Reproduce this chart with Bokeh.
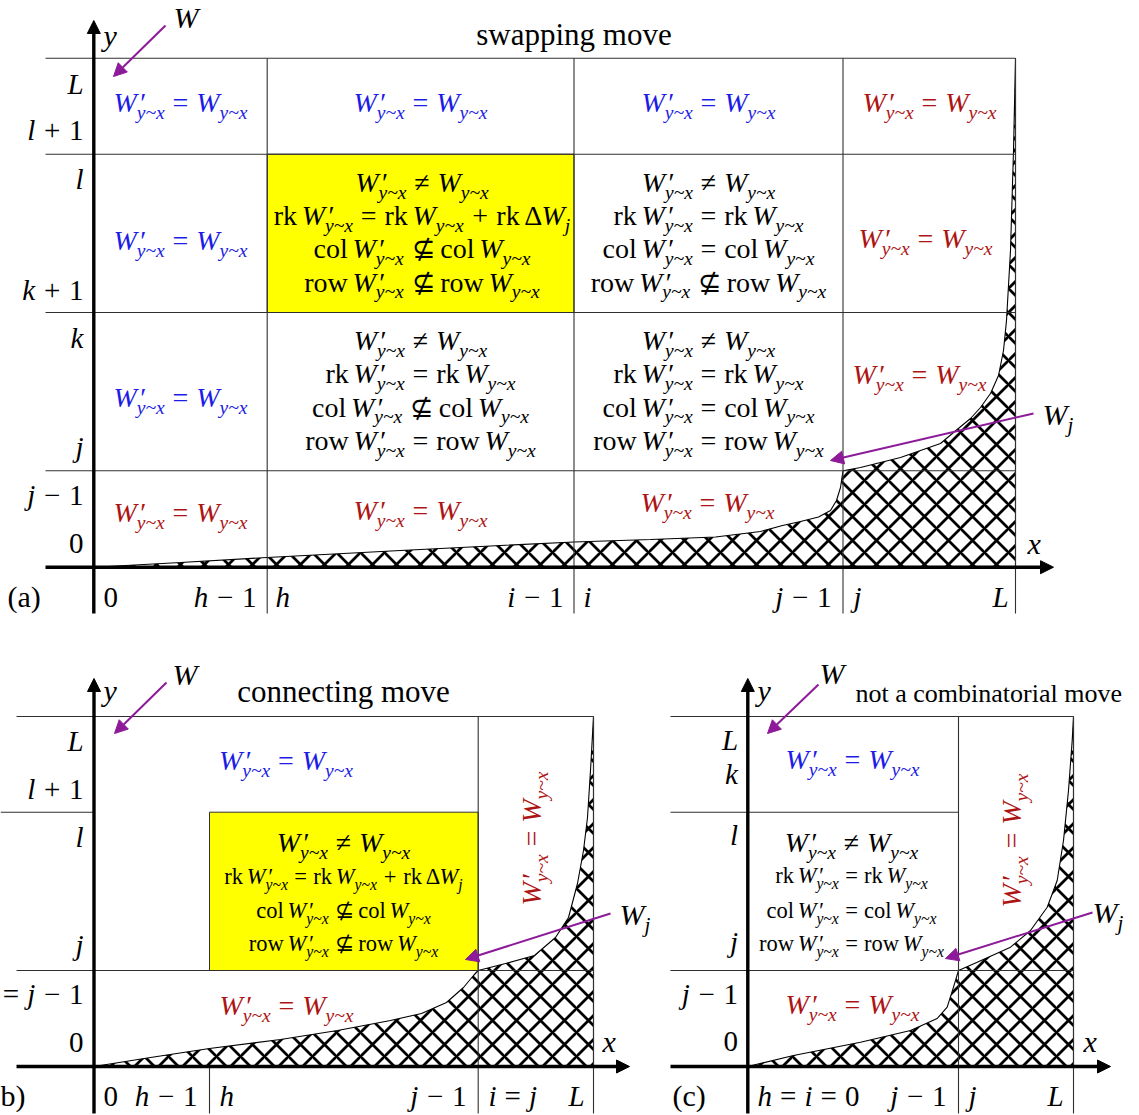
import math
from bokeh.plotting import figure
from bokeh.models import Range1d, Arrow, NormalHead, ColumnDataSource
from bokeh.core.properties import value, field
from bokeh.embed import file_html
from bokeh.resources import INLINE

# ------------------------------------------------------------------ data
BLUE, RED, PURPLE, YELLOW, GRID, INK = "#1c1ce6", "#ad1414", "#8c1a99", "#ffff00", "#303030", "#000000"
FONT = "Liberation Serif"

# ----- panel (a): swapping move
a_origin = [93.3, 566.7]
a_col_edges = [266.7, 573.5, 842.5, 1015.0]
a_row_edges = [57.7, 153.7, 312.0, 470.3]
a_left, a_bottom, a_xtip, a_ytip = 45.0, 613.0, 1053.0, 20.0
a_curve_x = [93.3, 180, 266.7, 400, 500, 573.5, 650, 715, 760, 782, 800, 818, 830, 836, 840, 842.5,
             860, 900, 940, 953, 970, 980, 990, 998, 1003, 1006, 1010, 1013, 1015]
a_curve_y = [566.7, 562, 557, 550, 545, 541.5, 539, 536.5, 531, 525, 521, 516.5, 510, 500, 487, 470.3,
             467, 457, 443, 432, 418, 407, 393, 375, 350, 320, 250, 150, 57.7]
a_ytick_text = ["L", "l + 1", "l", "k + 1", "k", "j", "j − 1", "0"]
a_ytick_base = [91.7, 138, 187, 298, 346, 455, 503, 551]
a_xtick_text = ["0", "h − 1", "h", "i − 1", "i", "j − 1", "j", "L"]
a_xtick_x = [103, 256, 275, 563, 583, 831, 853, 1008]
a_xtick_align = ["left", "right", "left", "right", "left", "right", "left", "right"]
a_eq_x = [180, 420, 708, 929, 180, 925, 180, 919, 180, 420, 707]
a_eq_y = [110, 110, 110, 110, 248, 246, 405, 382, 520, 518, 510]
a_eq_color = [BLUE, BLUE, BLUE, RED, BLUE, RED, BLUE, RED, RED, RED, RED]
a_block_text = [
    ["W′ ≠ W", "rk W′ = rk W + rk ΔW_j", "col W′ ⊈ col W", "row W′ ⊈ row W"],
    ["W′ ≠ W", "rk W′ = rk W", "col W′ = col W", "row W′ ⊈ row W"],
    ["W′ ≠ W", "rk W′ = rk W", "col W′ ⊈ col W", "row W′ = row W"],
    ["W′ ≠ W", "rk W′ = rk W", "col W′ = col W", "row W′ = row W"],
]
a_block_x = [421.5, 708, 420, 708]
a_block_y = [190, 190, 348.3, 348.3]
a_yellow = [266.7, 573.5, 153.7, 312.0]   # left, right, top, bottom

# ----- panel (b): connecting move
b_origin = [93.5, 1066.0]
b_left, b_bottom, b_xtip, b_ytip = 16.0, 1113.0, 629.0, 678.0
b_hlines = [[16, 593, 716], [0, 93.5, 811.7], [16, 593, 970]]
b_vlines = [[209, 1066, 1113], [477.7, 716, 1113], [593, 716, 1113]]
b_curve_x = [93.5, 150, 209, 280, 337, 390, 421, 446, 463, 473, 477.7, 505, 534, 555, 568, 577, 583, 587, 590, 593]
b_curve_y = [1066, 1057, 1048, 1039, 1030, 1020, 1013, 1002, 987, 975, 970, 963, 955, 937, 917, 883, 850, 817, 770, 716]
b_ytick_text = ["L", "l + 1", "l", "j", "= j − 1", "0"]
b_ytick_base = [749, 797, 845, 953, 1002, 1050]
b_xtick_text = ["0", "h − 1", "h", "j − 1", "i = j", "L"]
b_xtick_x = [103, 197, 219, 466, 488, 584]
b_xtick_align = ["left", "right", "left", "right", "left", "right"]
b_yellow = [209.0, 477.7, 811.7, 970.0]
b_block_text = ["W′ ≠ W", "rk W′ = rk W + rk ΔW_j", "col W′ ⊈ col W", "row W′ ⊈ row W"]
b_block_y = [850, 883, 916.7, 950]

# ----- panel (c): not a combinatorial move
c_origin = [747.3, 1066.0]
c_left, c_bottom, c_xtip, c_ytip = 670.0, 1113.0, 1110.0, 678.0
c_hlines = [[670, 1073, 716], [670, 958, 811.7], [670, 1073, 970]]
c_vlines = [[958, 716, 1113], [1073, 716, 1113]]
c_curve_x = [747.3, 793, 860, 910, 936.7, 946.7, 953, 958, 976.7, 1010, 1030, 1046.7, 1056.7, 1063, 1068, 1071.7, 1073]
c_curve_y = [1066, 1055, 1041.7, 1030, 1018, 1006.7, 986.7, 970, 961.7, 946.7, 930, 906.7, 880, 840, 790, 740, 716]
c_ytick_text = ["L", "k", "l", "j", "j − 1", "0"]
c_ytick_base = [748, 782, 843, 950, 1002, 1049]
c_xtick_text = ["h = i = 0", "j − 1", "j", "L"]
c_xtick_x = [757, 946, 968, 1063]
c_xtick_align = ["left", "right", "left", "right"]
c_block_text = ["W′ ≠ W", "rk W′ = rk W", "col W′ = col W", "row W′ = row W"]
c_block_y = [850, 882, 917, 950]

# ------------------------------------------------------------------ text layout helpers
RM = {' ': .25, '(': .333, ')': .333, '=': .564, '+': .564, '−': .564, '≠': .549, '⊈': .75,
      'Δ': .612, '~': .541, '′': .275, 'a': .444, 'b': .5, 'c': .444, 'd': .5, 'e': .444, 'f': .333,
      'g': .5, 'h': .5, 'i': .278, 'k': .5, 'l': .278, 'm': .778, 'n': .5, 'o': .5, 'p': .5, 'r': .333,
      's': .389, 't': .278, 'u': .5, 'v': .5, 'w': .722, 'x': .5, 'y': .5}
for d in "0123456789":
    RM[d] = .5
IT = {'W': .833, 'L': .556, 'h': .5, 'i': .278, 'j': .278, 'k': .444, 'l': .278, 'x': .444, 'y': .444, '~': .541}
BASELINE_FIX = 0.29   # lift of the drawn baseline, as a fraction of the font size


def tokens_to_runs(s, cell=True):
    runs = []
    for t in s.split(" "):
        if cell and t == "W′":
            runs += [("W", "it"), ("′", "pr"), ("y~x", "sub")]
        elif cell and t == "W":
            runs += [("W", "it"), ("y~x", "sub")]
        elif t == "W_j":
            runs += [("W", "it"), ("j", "sub")]
        elif t == "ΔW_j":
            runs += [("Δ", "rm"), ("W", "it"), ("j", "sub")]
        elif t in ("=", "≠", "⊈"):
            runs += [(0.278, "sp"), (t, "rm"), (0.278, "sp")]
        elif t in ("+", "−"):
            runs += [(0.30, "sp"), (t, "rm"), (0.30, "sp")]
        elif t in ("rk", "col", "row"):
            runs += [(t, "rm"), (0.167, "sp")]
        elif len(t) == 1 and t.isascii() and t.isalpha():
            runs.append((t, "it"))
        else:
            runs.append((t, "rm"))
    return runs


def width_of(t, st, size):
    if st == "sp":
        return t * size
    if st == "pr":
        return 0.0
    tab = IT if st in ("it", "sub") else RM
    w = sum(tab.get(c, RM.get(c, 0.5)) for c in t)
    return w * size * (0.7 if st == "sub" else 1.0)


T = dict(x=[], y=[], text=[], size=[], style=[], color=[], angle=[])


def put(s, x, y, size, color=INK, align="center", angle=0.0, cell=True, plain=False):
    runs = [(s, "rm")] if plain else tokens_to_runs(s, cell)
    ws = [width_of(t, st, size) for t, st in runs]
    total = sum(ws)
    pos = {"left": 0.0, "center": -total / 2, "right": -total}[align]
    ca, sa = math.cos(angle), math.sin(angle)
    for (t, st), w in zip(runs, ws):
        if st != "sp":
            along, down, fs, sty = pos, 0.0, size, "normal"
            if st == "it":
                sty = "italic"
            elif st == "sub":
                sty, fs, down = "italic", 0.7 * size, 0.26 * size
            elif st == "pr":
                along, sty = pos + 0.06 * size, "italic"
            down -= BASELINE_FIX * fs
            T["x"].append(x + along * ca + down * sa)
            T["y"].append(y - along * sa + down * ca)
            T["text"].append(t)
            T["size"].append(f"{fs:.1f}px")
            T["style"].append(sty)
            T["color"].append(color)
            T["angle"].append(angle)
        pos += w


# ------------------------------------------------------------------ figure
p = figure(width=1139, height=1115, x_range=Range1d(0, 1139), y_range=Range1d(1115, 0),
           x_axis_type=None, y_axis_type=None, min_border=0, toolbar_location=None,
           output_backend="svg", outline_line_color=None)
p.background_fill_color = "white"
p.border_fill_color = "white"

# yellow cells
p.quad(left=[a_yellow[0], b_yellow[0]], right=[a_yellow[1], b_yellow[1]],
       top=[a_yellow[2], b_yellow[2]], bottom=[a_yellow[3], b_yellow[3]],
       fill_color=YELLOW, line_color=GRID, line_width=1)

# hatched regions under W_j
for cx, cy, oy in ((a_curve_x, a_curve_y, a_origin[1]), (b_curve_x, b_curve_y, b_origin[1]),
                   (c_curve_x, c_curve_y, c_origin[1])):
    xs = cx + [cx[-1], cx[0]]
    ys = cy + [oy, oy]
    p.patch(xs, ys, fill_color="white", hatch_pattern="diagonal_cross", hatch_scale=24,
            hatch_weight=2.8, hatch_color="black", line_color="black", line_width=1.1)

# grid lines
sx0, sy0, sx1, sy1 = [], [], [], []
for y in a_row_edges:
    sx0.append(a_left); sy0.append(y); sx1.append(a_col_edges[-1]); sy1.append(y)
for x in a_col_edges:
    sx0.append(x); sy0.append(a_row_edges[0]); sx1.append(x); sy1.append(a_bottom)
for hl in b_hlines + c_hlines:
    sx0.append(hl[0]); sy0.append(hl[2]); sx1.append(hl[1]); sy1.append(hl[2])
for vl in b_vlines + c_vlines:
    sx0.append(vl[0]); sy0.append(vl[1]); sx1.append(vl[0]); sy1.append(vl[2])
p.segment(x0=sx0, y0=sy0, x1=sx1, y1=sy1, line_color=GRID, line_width=1.1)

# axes with arrow heads
ax = dict(x0=[], y0=[], x1=[], y1=[])
for (ox, oy), left, bottom, xtip, ytip in ((a_origin, a_left, a_bottom, a_xtip, a_ytip),
                                           (b_origin, b_left, b_bottom, b_xtip, b_ytip),
                                           (c_origin, c_left, c_bottom, c_xtip, c_ytip)):
    ax["x0"] += [left, ox]; ax["y0"] += [oy, bottom]
    ax["x1"] += [xtip, ox]; ax["y1"] += [oy, ytip]
p.add_layout(Arrow(x_start="x0", y_start="y0", x_end="x1", y_end="y1", source=ColumnDataSource(ax),
                   line_width=3.4, line_color="black",
                   end=NormalHead(size=13, fill_color="black", line_color="black", line_width=1)))

# purple pointer arrows
pa = dict(x0=[165, 1033, 166, 610, 818, 1092], y0=[25, 413, 682, 913, 684, 912],
          x1=[113, 830, 114, 465, 767, 945], y1=[76, 460, 733, 959, 733, 958])
p.add_layout(Arrow(x_start="x0", y_start="y0", x_end="x1", y_end="y1", source=ColumnDataSource(pa),
                   line_width=2, line_color=PURPLE,
                   end=NormalHead(size=13, fill_color=PURPLE, line_color=PURPLE, line_width=1)))

# ------------------------------------------------------------------ texts
TICK, CELL, SMALL, LAB = 29, 28, 22.5, 30

# panel (a)
put("swapping move", 573.5, 43, 31, plain=True)
put("W", 173, 26, LAB, align="left", cell=False)
put("y", 103, 44, LAB, align="left", cell=False)
put("(a)", 7, 605, LAB, align="left", plain=True)
put("x", 1027, 551.7, LAB, align="left", cell=False)
put("W_j", 1042, 423, LAB, align="left", cell=False)
for t, yb in zip(a_ytick_text, a_ytick_base):
    put(t, 83, yb, TICK, align="right", cell=False)
for t, xx, al in zip(a_xtick_text, a_xtick_x, a_xtick_align):
    put(t, xx, 605, TICK, align=al, cell=False)
for xx, yy, col in zip(a_eq_x, a_eq_y, a_eq_color):
    put("W′ = W", xx, yy, CELL, col)
for lines, xx, y0 in zip(a_block_text, a_block_x, a_block_y):
    for i, t in enumerate(lines):
        put(t, xx, y0 + 33.3 * i, CELL)

# panel (b)
put("connecting move", 343, 700, 31, plain=True)
put("W", 172, 683, LAB, align="left", cell=False)
put("y", 103, 699, LAB, align="left", cell=False)
put("b)", 0, 1104, LAB, align="left", plain=True)
put("x", 602, 1050, LAB, align="left", cell=False)
put("W_j", 619, 923, LAB, align="left", cell=False)
for t, yb in zip(b_ytick_text, b_ytick_base):
    put(t, 83, yb, TICK, align="right", cell=False)
for t, xx, al in zip(b_xtick_text, b_xtick_x, b_xtick_align):
    put(t, xx, 1104, TICK, align=al, cell=False)
put("W′ = W", 285.5, 768, CELL, BLUE)
put("W′ = W", 286, 1013, CELL, RED)
put("W′ = W", 539, 838, CELL, RED, angle=math.pi / 2)
for i, (t, yb) in enumerate(zip(b_block_text, b_block_y)):
    put(t, 343, yb, CELL if i == 0 else SMALL)

# panel (c)
put("not a combinatorial move", 855, 701, 26, align="left", plain=True)
put("W", 819, 682, LAB, align="left", cell=False)
put("y", 757, 699, LAB, align="left", cell=False)
put("(c)", 672, 1104, LAB, align="left", plain=True)
put("x", 1083, 1050, LAB, align="left", cell=False)
put("W_j", 1092, 921, LAB, align="left", cell=False)
for t, yb in zip(c_ytick_text, c_ytick_base):
    put(t, 737.5, yb, TICK, align="right", cell=False)
for t, xx, al in zip(c_xtick_text, c_xtick_x, c_xtick_align):
    put(t, xx, 1104, TICK, align=al, cell=False)
put("W′ = W", 852, 767, CELL, BLUE)
put("W′ = W", 852, 1012, CELL, RED)
put("W′ = W", 1019, 840, CELL, RED, angle=math.pi / 2)
for i, (t, yb) in enumerate(zip(c_block_text, c_block_y)):
    put(t, 851, yb, CELL if i == 0 else SMALL)

p.text(x="x", y="y", text="text", source=ColumnDataSource(T), angle="angle",
       text_font=value(FONT), text_font_size=field("size"), text_font_style=field("style"),
       text_color=field("color"), text_align="left", text_baseline="alphabetic")

open("out.html", "w").write(file_html(p, INLINE, title="moves"))
